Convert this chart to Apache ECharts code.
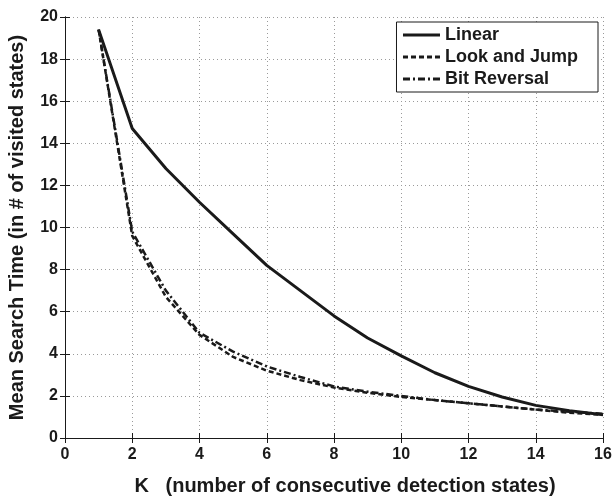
<!DOCTYPE html>
<html><head><meta charset="utf-8">
<script src="https://cdn.jsdelivr.net/npm/echarts@6/dist/echarts.min.js"></script>
<style>html,body{margin:0;padding:0;background:#fff}#c{width:613px;height:496px}</style>
</head><body><div id="c"></div>
<script>
const K = [1,2,3,4,5,6,7,8,9,10,11,12,13,14,15,16];
const linear = [19.4,14.7,12.8,11.2,9.7,8.2,7.0,5.8,4.75,3.9,3.1,2.45,1.95,1.55,1.3,1.1];
const lookJump = [19.4,9.6,6.7,4.9,3.85,3.2,2.75,2.4,2.15,1.95,1.8,1.65,1.5,1.35,1.2,1.1];
const bitRev = [19.4,9.8,7.0,5.0,4.1,3.4,2.9,2.45,2.2,2.0,1.8,1.65,1.5,1.35,1.25,1.15];
const xTicks = [0,2,4,6,8,10,12,14,16];
const yTicks = [0,2,4,6,8,10,12,14,16,18,20];

const font = 'Liberation Sans, Arial, sans-serif';
const ink = '#1a1a1a';
const chart = echarts.init(document.getElementById('c'));
const pairs = a => K.map((k,i)=>[k,a[i]]);
const baseAxis = {
  axisLine:{show:true,lineStyle:{color:ink,width:1}},
  axisTick:{show:true,inside:true,length:5,lineStyle:{color:ink}},
  splitLine:{show:true,lineStyle:{color:'#9a9a9a',type:[1,3],width:1}}
};
chart.setOption({
  animation:false,
  grid:{left:65,right:10,top:17,bottom:58,show:false,containLabel:false,outerBoundsMode:'none'},
  legend:{
    right:15,top:22,orient:'vertical',
    backgroundColor:'#fff',borderColor:ink,borderWidth:1,
    padding:[4,20,4,5],itemGap:4,itemWidth:37,itemHeight:16,
    itemStyle:{opacity:0},
    lineStyle:{width:3},
    textStyle:{fontFamily:font,fontSize:18,fontWeight:'bold',color:ink},
    data:['Linear','Look and Jump','Bit Reversal']
  },
  xAxis:[{
    ...baseAxis,type:'value',min:0,max:16,interval:2,
    axisLabel:{fontFamily:font,fontSize:16,fontWeight:'bold',color:ink,margin:9},
    name:'K   (number of consecutive detection states)',nameLocation:'middle',nameGap:38,
    nameTextStyle:{fontFamily:font,fontSize:20,fontWeight:'bold',color:ink,padding:[0,0,0,22]}
  },{
    ...baseAxis,type:'value',position:'top',min:0,max:16,interval:2,
    axisLabel:{show:false},splitLine:{show:false}
  }],
  yAxis:[{
    ...baseAxis,type:'value',min:0,max:20,interval:2,
    axisLabel:{fontFamily:font,fontSize:16,fontWeight:'bold',color:ink,margin:7},
    name:'Mean Search Time (in # of visited states)',nameLocation:'middle',nameGap:38,
    nameTextStyle:{fontFamily:font,fontSize:20,fontWeight:'bold',color:ink}
  },{
    ...baseAxis,type:'value',position:'right',min:0,max:20,interval:2,
    axisLabel:{show:false},splitLine:{show:false}
  }],
  series:[
    {name:'Linear',type:'line',data:pairs(linear),symbol:'none',
     lineStyle:{color:ink,width:3,type:'solid'},itemStyle:{color:ink}},
    {name:'Look and Jump',type:'line',data:pairs(lookJump),symbol:'none',
     lineStyle:{color:ink,width:2.5,type:[5,3]},itemStyle:{color:ink}},
    {name:'Bit Reversal',type:'line',data:pairs(bitRev),symbol:'none',
     lineStyle:{color:ink,width:2.5,type:[7,3,2,3]},itemStyle:{color:ink}}
  ]
});
</script></body></html>
